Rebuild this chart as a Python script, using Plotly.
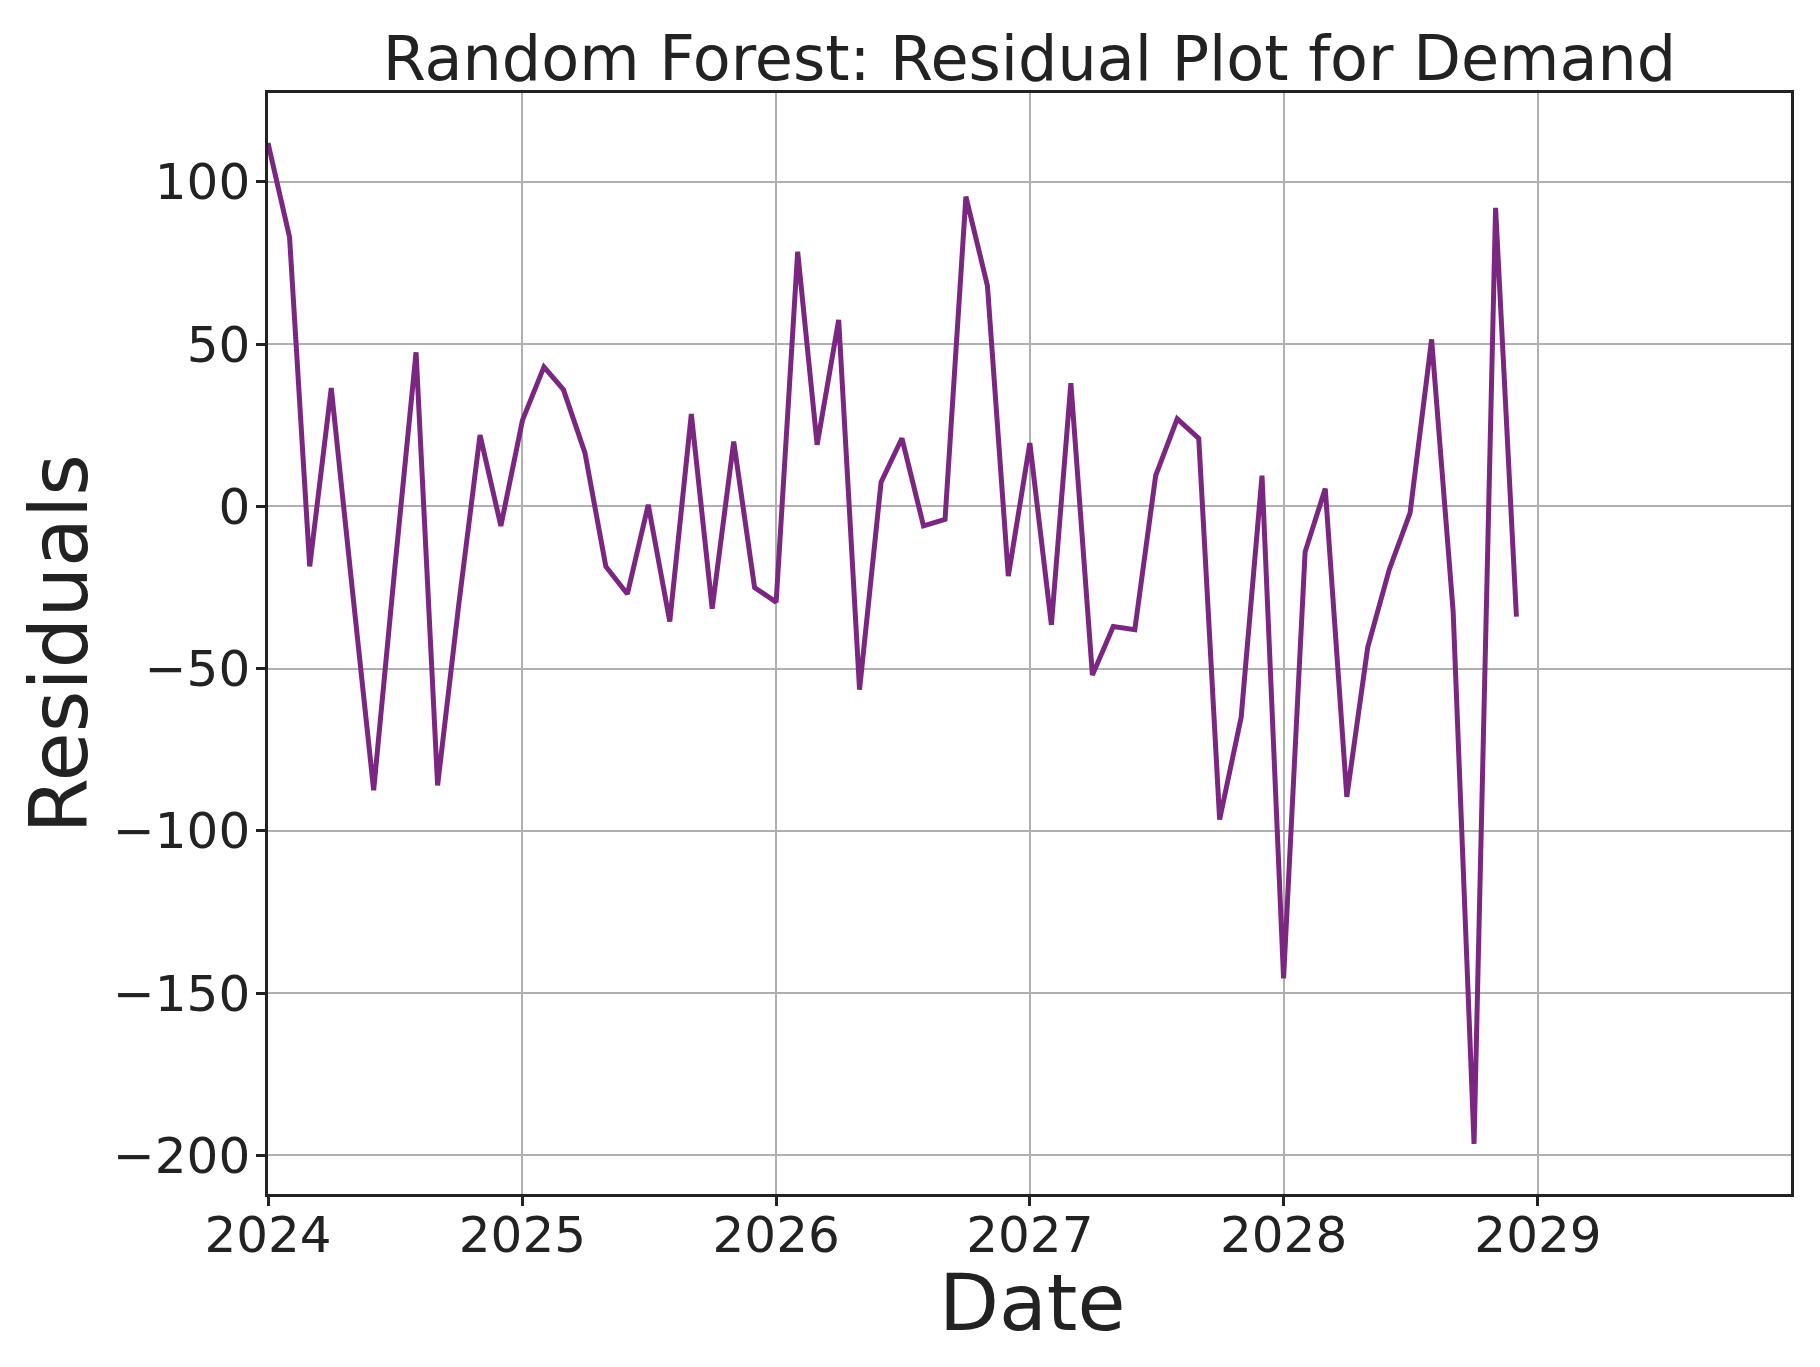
import pandas as pd
import plotly.graph_objects as go

# Monthly dates
dates = pd.date_range("2024-01-01", "2028-12-01", freq="MS")

residuals = [
    112, 83, -18.5, 36.5, -25, -87.5, -20, 47.5, -86, -31, 22, -6,
    26.5, 43, 36, 16.5, -18.5, -27, 0.5, -35.5, 28.5, -31.5, 20, -25,
    -29.5, 78.5, 19, 57.5, -56.5, 7.5, 21, -6, -4, 95.5, 68, -21.5,
    19.5, -36.5, 38, -52, -37, -38, 9.5, 27, 21, -96.5, -65, 9.5,
    -145.5, -14, 5.5, -89.5, -43.5, -19.5, -2, 51.5, -32.5, -196.5, 92, -34,
]

x_range = ["2024-01-01", "2029-12-31"]
y_ticks = [-200, -150, -100, -50, 0, 50, 100]

ymin, ymax = min(residuals), max(residuals)
pad = 0.05 * (ymax - ymin)
y_range = [ymin - pad, ymax + pad]

FONT = "DejaVu Sans"
TXT = "#222222"

fig = go.Figure()
fig.add_trace(go.Scatter(
    x=dates, y=residuals, mode="lines",
    line=dict(color="#7B2781", width=5),
    showlegend=False,
))

W, H = 1812, 1359
L, R, T, B = 260, 29, 85, 173

fig.update_layout(
    width=W, height=H,
    margin=dict(l=L, r=R, t=T, b=B),
    paper_bgcolor="white", plot_bgcolor="white",
    font=dict(family=FONT, color=TXT),
    title=dict(
        text="Random Forest: Residual Plot for Demand",
        font=dict(size=62, family=FONT, color=TXT),
        x=0.5, xanchor="center", xref="paper",
        y=1 - 50 / H, yanchor="middle", yref="container",
    ),
    annotations=[
        dict(text="Date", xref="paper", yref="paper", x=0.5, y=0,
             xanchor="center", yanchor="middle", xshift=2, yshift=-109,
             borderpad=0,
             showarrow=False, font=dict(size=78, family=FONT, color=TXT)),
        dict(text="Residuals", xref="paper", yref="paper", x=0, y=0.5,
             xanchor="center", yanchor="middle", xshift=-209, textangle=-90,
             borderpad=0,
             showarrow=False, font=dict(size=80, family=FONT, color=TXT)),
    ],
)

fig.update_xaxes(
    range=x_range, type="date",
    tickformat="%Y", dtick="M12", tick0="2024-01-01",
    showgrid=True, gridcolor="#b0b0b0", gridwidth=2,
    showline=True, linecolor="#222222", linewidth=2.5, mirror=True,
    ticks="outside", ticklen=9, tickwidth=2.5, tickcolor="#222222",
    tickfont=dict(size=50, family=FONT, color=TXT),
    ticklabelstandoff=-14,
    zeroline=False,
    automargin=False,
)
fig.update_yaxes(
    range=y_range,
    tickmode="array", tickvals=y_ticks,
    showgrid=True, gridcolor="#b0b0b0", gridwidth=2,
    showline=True, linecolor="#222222", linewidth=2.5, mirror=True,
    ticks="outside", ticklen=9, tickwidth=2.5, tickcolor="#222222",
    tickfont=dict(size=50, family=FONT, color=TXT),
    ticklabelstandoff=-4,
    zeroline=False,
    automargin=False,
)

fig.write_html("out.html")
